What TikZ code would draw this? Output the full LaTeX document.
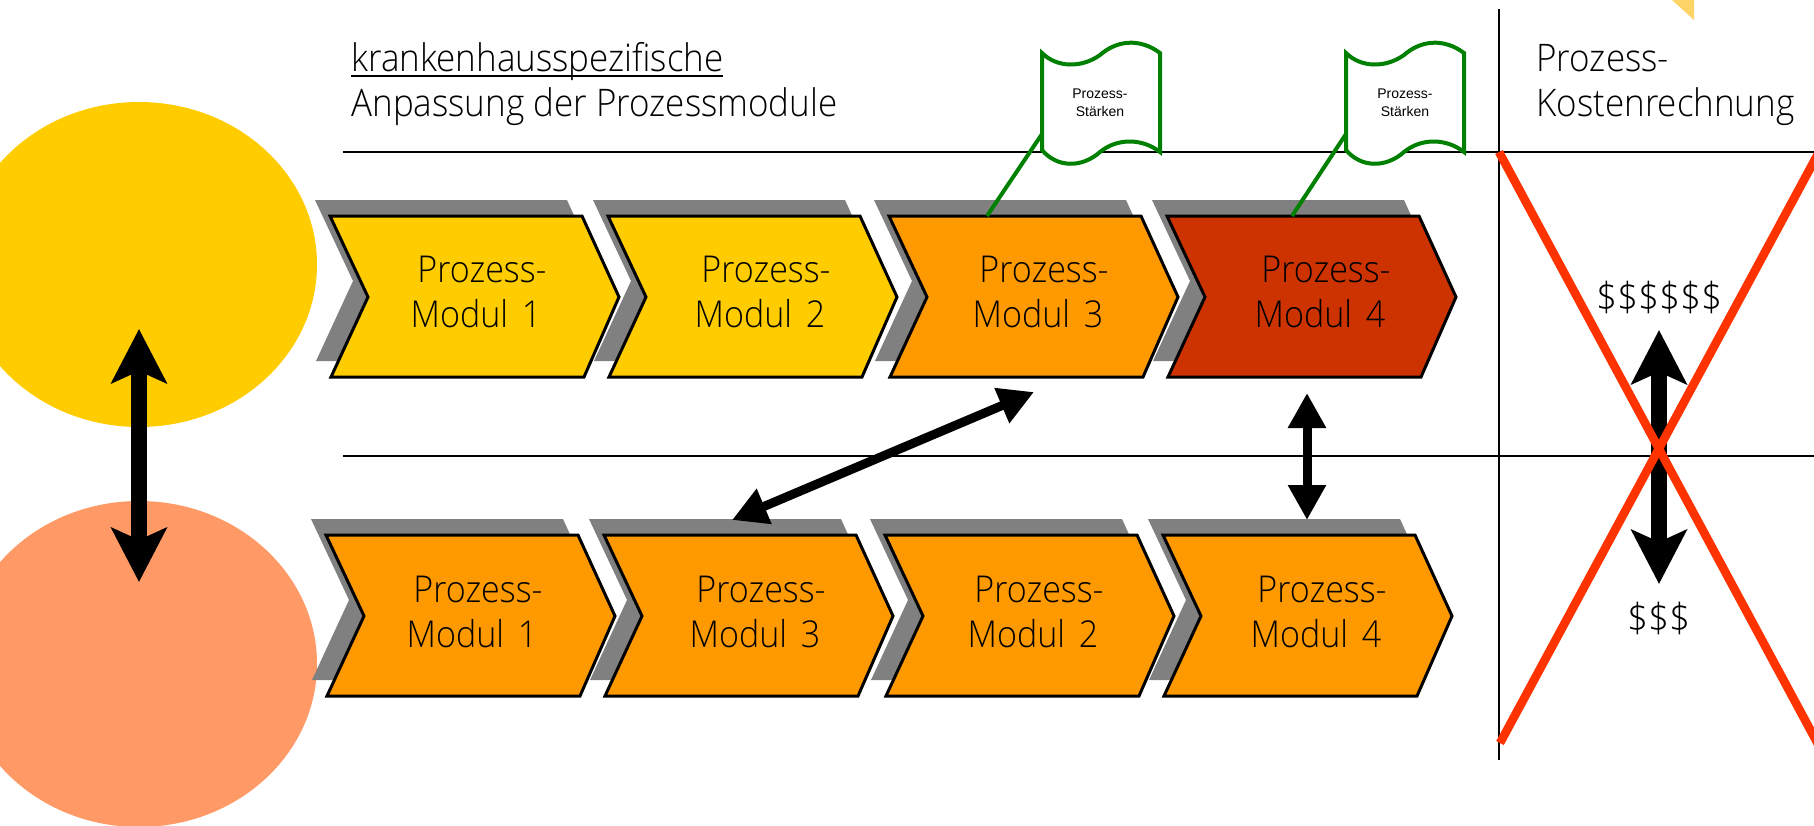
\documentclass[tikz,border=0pt]{standalone}
\usepackage{fontspec}
\setmainfont{Open Sans}[UprightFont=* Light,FakeStretch=0.92]
\newfontfamily\smallsans{Liberation Sans}
\usetikzlibrary{arrows.meta}
\definecolor{yel}{HTML}{FFCC00}
\definecolor{pinkish}{HTML}{FF9966}
\definecolor{org}{HTML}{FF9900}
\definecolor{brick}{HTML}{CC3300}
\definecolor{crossred}{HTML}{FF3300}
\definecolor{grn}{HTML}{008000}
\definecolor{shad}{HTML}{808080}
\definecolor{paleyel}{HTML}{FFD466}
\newcommand{\ulhead}[1]{\setbox0\hbox{#1}\rlap{\rule[-3.2pt]{\wd0}{1pt}}\box0}
\newcommand{\modlabel}[1]{\hspace*{6pt}Prozess-\\Modul \hspace{2.5pt}#1}
\tikzset{
 rule/.style={draw=black,line width=1.3pt},
 bigarrow/.style={line width=8pt,{Stealth[length=27pt,width=27.5pt,inset=6pt]}-{Stealth[length=27pt,width=27.5pt,inset=6pt]}},
 smallarrow/.style={line width=4.5pt,{Triangle[length=17.5pt,width=18pt]}-{Triangle[length=17.5pt,width=18pt]}},
 lbl/.style={inner sep=0pt,align=center,font=\fontsize{18.5}{22.3}\selectfont},
 dollbl/.style={inner sep=0pt,align=center,font=\fontsize{20}{22}\selectfont},
 hdr/.style={inner sep=0pt,anchor=base west,font=\fontsize{19}{23}\selectfont},
 doclbl/.style={inner sep=0pt,align=center,font=\smallsans\fontsize{7}{9}\selectfont},
 docshape/.style={draw=grn,line width=2pt,fill=white},
 link/.style={grn,line width=2pt},
 crossline/.style={crossred,line width=4.3pt},
}
\begin{document}
\begin{tikzpicture}[x=0.5pt,y=-0.5pt]
\useasboundingbox (0,0) rectangle (1814,825);
\begin{scope}
\clip (0,0) rectangle (1814,825);
\fill[yel] (139,264.5) ellipse [x radius=178,y radius=162.5];
\fill[pinkish] (139,664) ellipse [x radius=178,y radius=163];
\fill[paleyel] (1672,0) -- (1694,20) -- (1694,0) -- cycle;
\end{scope}

\coordinate (r1a) at (343,152); \coordinate (r1b) at (1814,152);
\coordinate (r2a) at (343,456); \coordinate (r2b) at (1814,456);
\coordinate (va) at (1499,9); \coordinate (vb) at (1499,760);
\draw[rule] (r1a) -- (r1b);
\draw[rule] (r2a) -- (r2b);
\draw[rule] (va) -- (vb);

\node[hdr] (h1) at (351,71) {\ulhead{krankenhausspezifische}};
\node[hdr] (h2) at (351,116) {Anpassung der Prozessmodule};
\node[hdr] (h3) at (1536,71) {Prozess-};
\node[hdr] (h4) at (1536,116) {Kostenrechnung};

\foreach \xx/\ff in {330/yel,608/yel,889/org,1167/brick}{
  \begin{scope}[shift={(\xx,216)}]
  \fill[shad] (-15,-16) -- (237,-16) -- (274,65) -- (239,145) -- (-14,145) -- (23,65) -- cycle;
  \draw[fill=\ff,line width=1.5pt] (0,0) -- (252,0) -- (289,81) -- (254,161) -- (1,161) -- (38,81) -- cycle;
  \end{scope}
}
\foreach \xx in {326,604,885,1163}{
  \begin{scope}[shift={(\xx,535)}]
  \fill[shad] (-15,-16) -- (237,-16) -- (274,65) -- (239,145) -- (-14,145) -- (23,65) -- cycle;
  \draw[fill=org,line width=1.5pt] (0,0) -- (252,0) -- (289,81) -- (254,161) -- (1,161) -- (38,81) -- cycle;
  \end{scope}
}
\node[lbl] (a1) at (476,292) {\modlabel{1}};
\node[lbl] (a2) at (760,292) {\modlabel{2}};
\node[lbl] (a3) at (1038,292) {\modlabel{3}};
\node[lbl] (a4) at (1320,292) {\modlabel{4}};
\node[lbl] (b1) at (472,612) {\modlabel{1}};
\node[lbl] (b2) at (755,612) {\modlabel{3}};
\node[lbl] (b3) at (1033,612) {\modlabel{2}};
\node[lbl] (b4) at (1316,612) {\modlabel{4}};

\coordinate (gs1) at (987,216); \coordinate (gs2) at (1292,216);
\coordinate (ge1) at (1042,134); \coordinate (ge2) at (1346,134);
\foreach \xx in {1042,1346}{
  \begin{scope}[shift={(\xx,0)}]
  \draw[docshape] (0,53) .. controls (15,68) and (40,68) .. (58,55) .. controls (75,40) and (98,38) .. (118,53) -- (118,152)
     .. controls (100,138) and (75,138) .. (58,152) .. controls (40,168) and (15,168) .. (0,150) -- cycle;
  \end{scope}
}
\draw[link] (gs1) -- (ge1);
\draw[link] (gs2) -- (ge2);
\node[doclbl] (d1t) at (1100,102.5) {Prozess-\\Stärken};
\node[doclbl] (d2t) at (1405,102.5) {Prozess-\\Stärken};

\node[dollbl] (dol1) at (1659,297) {\$\$\$\$\$\$};
\node[dollbl] (dol2) at (1659,618.5) {\$\$\$};

\coordinate (ar1a) at (139,329); \coordinate (ar1b) at (139,582);
\coordinate (ar2a) at (1659,330); \coordinate (ar2b) at (1659,584);
\coordinate (ar3a) at (1307,393); \coordinate (ar3b) at (1307,520);
\coordinate (ar4a) at (1034,392); \coordinate (ar4b) at (732,520);
\draw[bigarrow] (ar1a) -- (ar1b);
\draw[bigarrow] (ar2a) -- (ar2b);
\draw[smallarrow] (ar3a) -- (ar3b);
\draw[smallarrow] (ar4a) -- (ar4b);

\coordinate (xa) at (1499,152); \coordinate (xb) at (1819,746);
\coordinate (xc) at (1500,743); \coordinate (xd) at (1819,152);
\draw[crossline] (xa) -- (xb);
\draw[crossline] (xc) -- (xd);
\end{tikzpicture}
\end{document}
